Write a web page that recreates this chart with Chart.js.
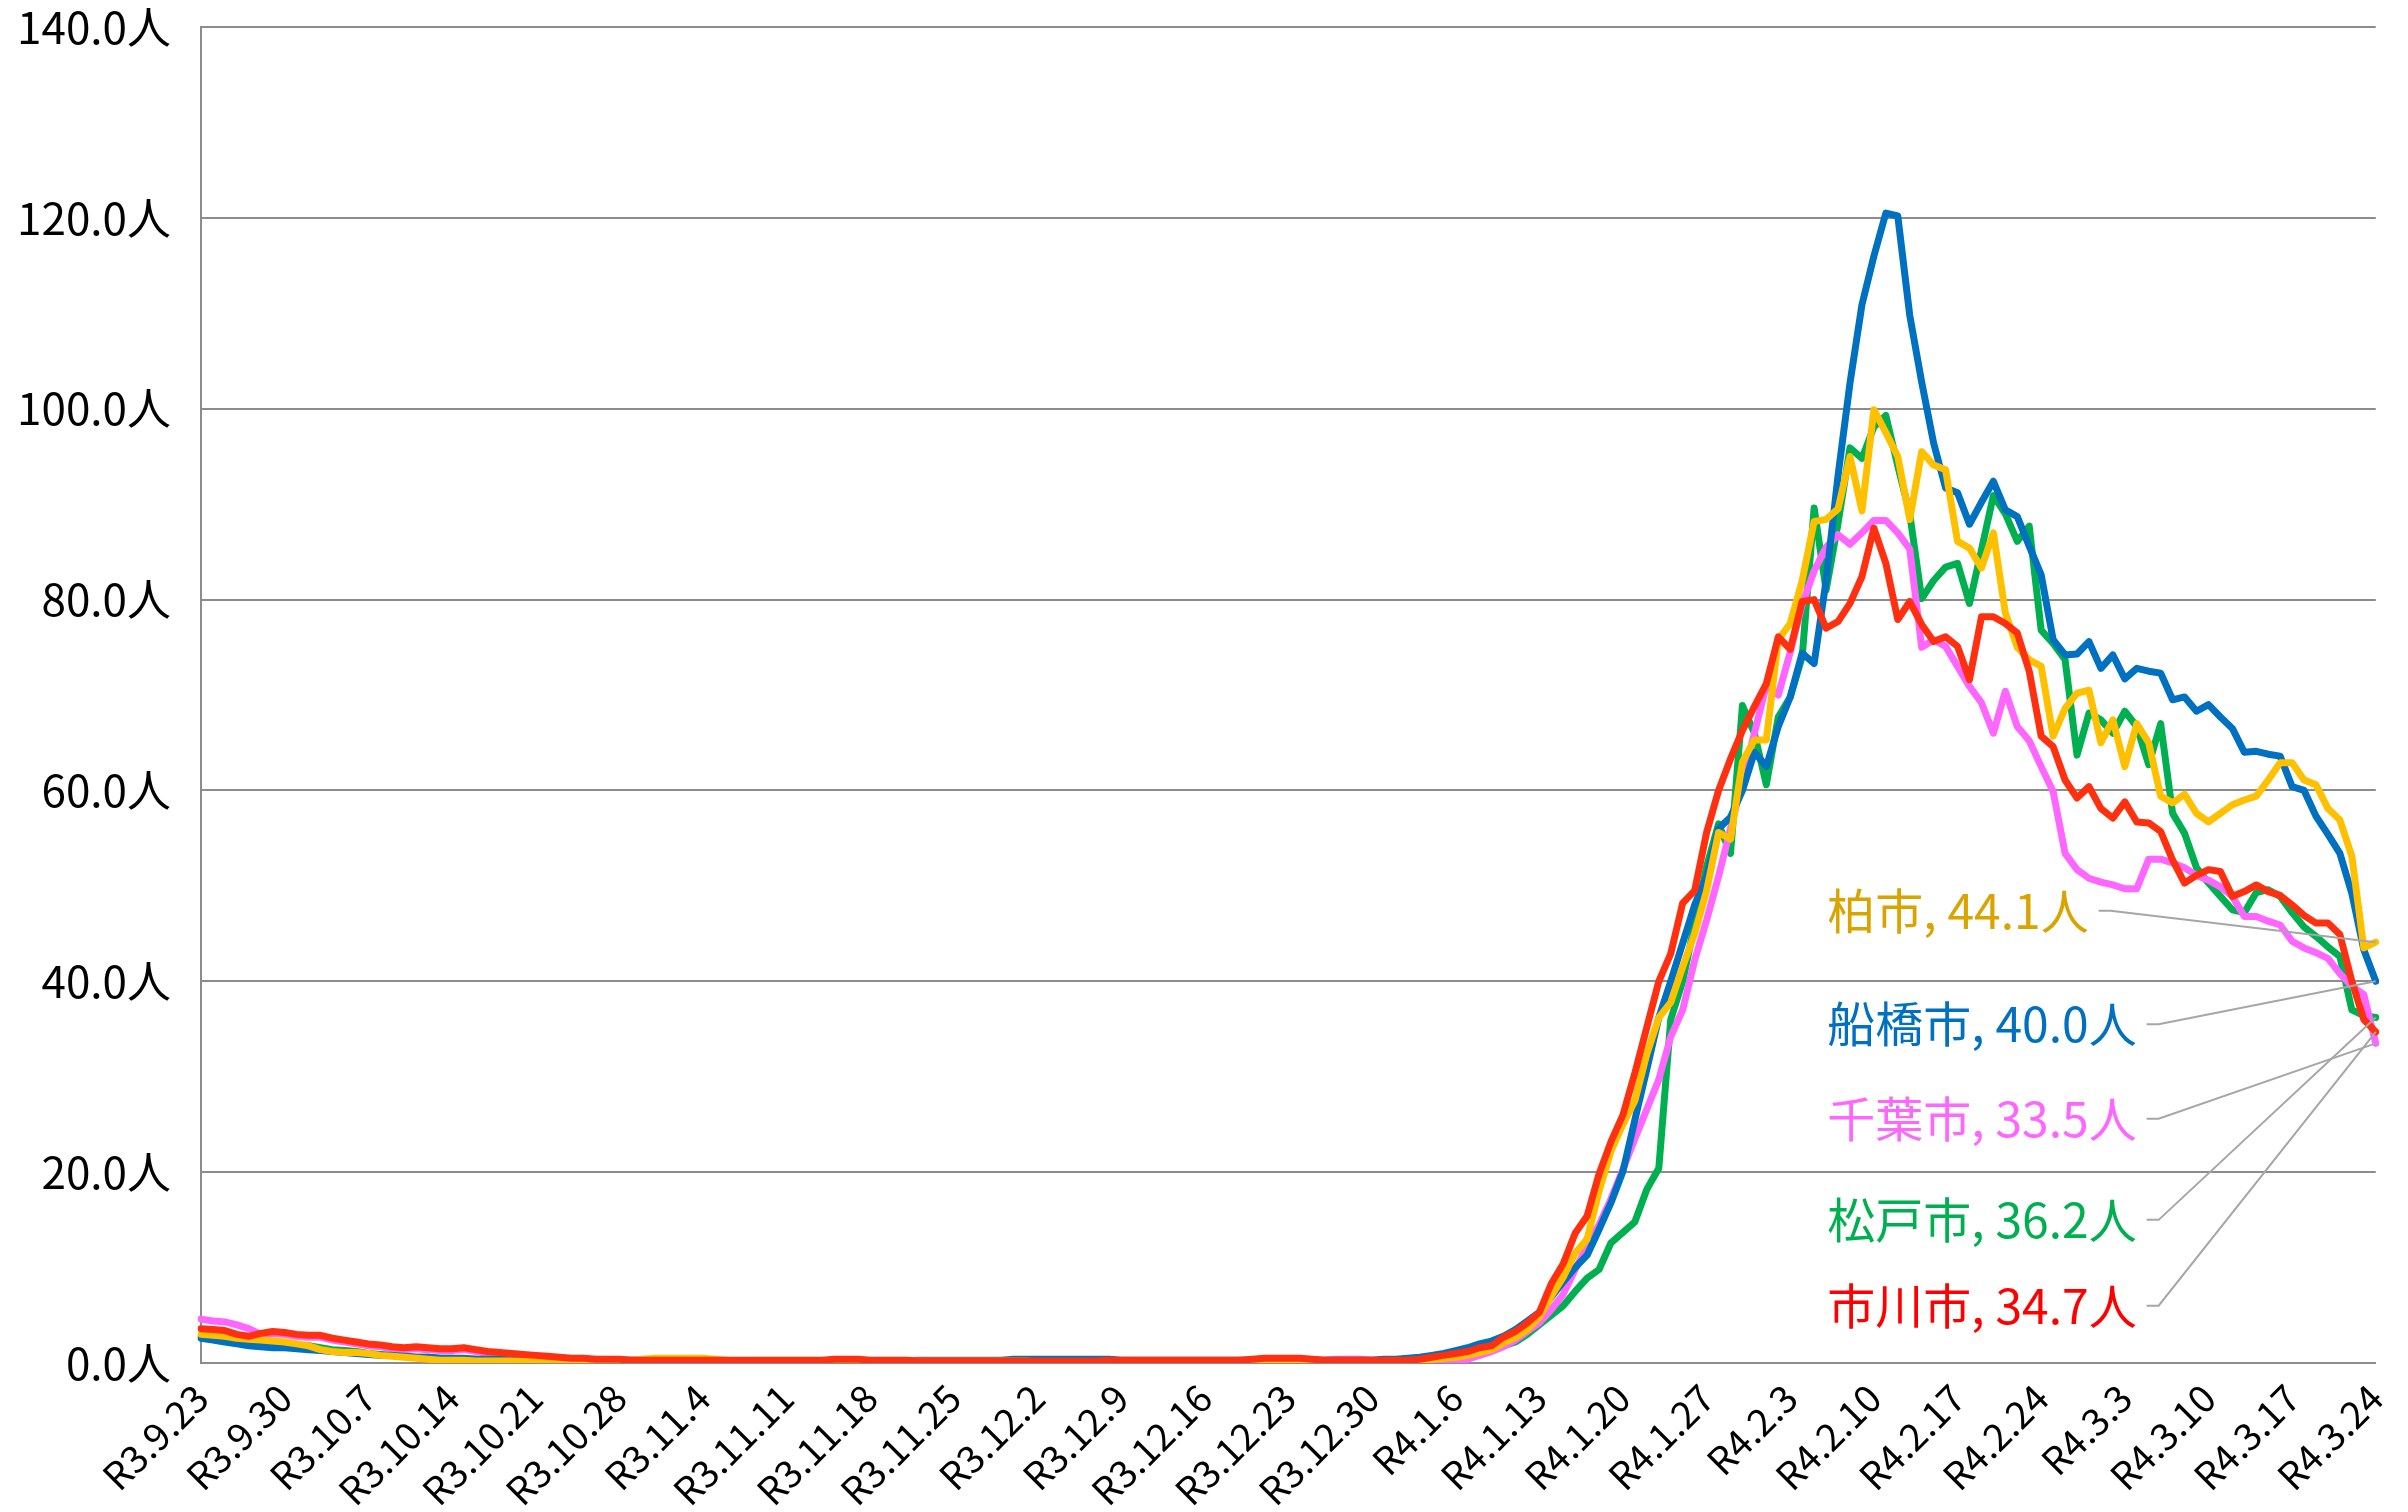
<!DOCTYPE html>
<html>
<head>
<meta charset="utf-8">
<script src="https://cdn.jsdelivr.net/npm/chart.js@4.4.1/dist/chart.umd.min.js"></script>
<style>
  html, body { margin: 0; padding: 0; background: #ffffff; }
  #wrap { width: 2408px; height: 1512px; }
</style>
</head>
<body>
<div id="wrap"><canvas id="c" width="2408" height="1512"></canvas></div>
<script>
// ---------- DATA ----------
const startDate = { y: 2021, m: 9, d: 23 };   // R3.9.23
const dayCount = 183;                           // R3.9.23 .. R4.3.24

const tickLabels = ['R3.9.23','R3.9.30','R3.10.7','R3.10.14','R3.10.21','R3.10.28','R3.11.4',
  'R3.11.11','R3.11.18','R3.11.25','R3.12.2','R3.12.9','R3.12.16','R3.12.23','R3.12.30',
  'R4.1.6','R4.1.13','R4.1.20','R4.1.27','R4.2.3','R4.2.10','R4.2.17','R4.2.24',
  'R4.3.3','R4.3.10','R4.3.17','R4.3.24'];

const seriesNames = ['市川市', '柏市', '船橋市', '千葉市', '松戸市'];

const ichikawa = [
  3.6,3.5,3.4,3.0,2.8,3.1,3.3,3.2,3.0,2.9,
  2.9,2.6,2.4,2.2,2.0,1.9,1.7,1.6,1.7,1.6,
  1.5,1.5,1.6,1.4,1.2,1.1,1.0,0.9,0.8,0.7,
  0.6,0.5,0.5,0.4,0.4,0.4,0.3,0.3,0.3,0.3,
  0.3,0.3,0.3,0.3,0.3,0.3,0.3,0.3,0.3,0.3,
  0.3,0.3,0.3,0.4,0.4,0.4,0.3,0.3,0.3,0.3,
  0.2,0.2,0.2,0.2,0.2,0.2,0.2,0.2,0.2,0.2,
  0.2,0.2,0.2,0.2,0.2,0.2,0.3,0.3,0.3,0.3,
  0.3,0.3,0.3,0.3,0.3,0.3,0.3,0.3,0.4,0.5,
  0.5,0.5,0.5,0.4,0.3,0.3,0.3,0.3,0.3,0.3,
  0.3,0.3,0.4,0.6,0.8,1.0,1.2,1.6,1.8,2.7,
  3.3,4.2,5.3,8.3,10.4,13.6,15.4,19.8,23.2,26.0,
  30.4,35.2,40.0,42.9,48.2,49.5,55.6,60.0,63.3,66.3,
  68.8,71.2,76.1,74.8,79.8,80.0,77.0,77.7,79.6,82.4,
  87.5,83.8,77.9,79.8,77.4,75.6,76.1,75.1,71.6,78.2,
  78.2,77.5,76.5,72.5,65.7,64.6,61.1,59.2,60.4,58.1,
  57.1,58.8,56.7,56.6,55.7,52.7,50.3,51.1,51.7,51.5,
  48.9,49.4,50.1,49.4,49.0,48.0,46.9,46.1,46.1,44.9,
  40.0,36.0,34.7
];

const kashiwa = [
  3.0,2.9,2.8,2.6,2.5,2.4,2.3,2.2,2.0,1.8,
  1.4,1.2,1.1,1.1,1.0,0.8,0.7,0.6,0.5,0.4,
  0.3,0.3,0.3,0.2,0.2,0.2,0.2,0.2,0.2,0.2,
  0.2,0.2,0.2,0.2,0.2,0.2,0.3,0.4,0.5,0.5,
  0.5,0.5,0.5,0.4,0.3,0.2,0.2,0.2,0.2,0.2,
  0.2,0.2,0.2,0.2,0.2,0.2,0.2,0.2,0.2,0.2,
  0.2,0.2,0.2,0.2,0.2,0.2,0.2,0.2,0.2,0.2,
  0.1,0.1,0.1,0.1,0.1,0.1,0.1,0.1,0.1,0.1,
  0.1,0.1,0.1,0.1,0.1,0.1,0.1,0.2,0.2,0.2,
  0.2,0.2,0.2,0.2,0.2,0.2,0.2,0.2,0.2,0.2,
  0.2,0.2,0.3,0.4,0.5,0.6,0.8,1.1,1.4,2.1,
  2.7,3.5,4.8,7.0,9.0,11.5,13.0,18.0,22.2,25.0,
  27.5,32.4,36.2,37.8,41.5,45.0,49.5,55.6,54.9,63.0,
  65.3,65.3,75.8,77.5,82.0,88.2,88.4,89.5,95.0,89.3,
  99.9,97.5,95.0,88.4,95.5,94.1,93.6,86.1,85.4,83.3,
  87.0,78.6,75.0,73.7,73.0,65.7,68.6,70.2,70.5,65.0,
  67.4,62.5,67.0,65.0,59.4,58.7,59.6,57.6,56.7,57.6,
  58.5,59.0,59.4,61.1,62.9,62.9,61.1,60.6,58.1,56.9,
  53.1,43.5,44.1
];

const funabashi = [
  2.6,2.4,2.2,2.0,1.8,1.7,1.6,1.6,1.5,1.4,
  1.3,1.2,1.1,1.0,0.9,0.8,0.8,0.7,0.6,0.6,
  0.5,0.5,0.5,0.4,0.4,0.4,0.3,0.3,0.3,0.3,
  0.3,0.3,0.3,0.3,0.3,0.3,0.3,0.3,0.3,0.3,
  0.3,0.2,0.2,0.2,0.2,0.2,0.2,0.2,0.2,0.2,
  0.2,0.2,0.2,0.2,0.2,0.2,0.2,0.2,0.2,0.2,
  0.3,0.3,0.3,0.3,0.3,0.3,0.3,0.3,0.4,0.4,
  0.4,0.4,0.4,0.4,0.4,0.4,0.4,0.3,0.3,0.3,
  0.3,0.3,0.3,0.3,0.3,0.3,0.3,0.3,0.3,0.3,
  0.3,0.3,0.3,0.3,0.3,0.3,0.3,0.3,0.3,0.4,
  0.4,0.5,0.6,0.8,1.0,1.3,1.6,2.0,2.3,2.8,
  3.5,4.4,5.3,6.9,8.5,10.0,11.3,14.0,16.8,20.1,
  25.5,30.8,36.2,40.0,44.0,48.0,51.0,56.0,57.2,60.0,
  64.0,62.5,66.7,69.8,74.4,73.3,82.0,93.0,102.7,110.9,
  116.0,120.5,120.2,109.8,102.8,96.4,91.7,91.2,87.9,90.2,
  92.4,89.4,88.7,85.6,82.6,75.8,74.2,74.3,75.6,72.8,
  74.2,71.7,72.8,72.5,72.3,69.5,69.8,68.3,69.0,67.7,
  66.5,64.0,64.1,63.8,63.6,60.4,60.0,57.3,55.4,53.4,
  49.2,43.3,40.0
];

const chiba = [
  4.6,4.4,4.3,4.0,3.6,3.0,3.1,3.0,2.8,2.7,
  2.7,2.4,2.2,2.0,1.8,1.7,1.5,1.4,1.5,1.4,
  1.3,1.3,1.4,1.2,1.0,0.9,0.8,0.7,0.6,0.5,
  0.5,0.4,0.4,0.4,0.3,0.3,0.3,0.3,0.3,0.3,
  0.3,0.3,0.2,0.2,0.2,0.2,0.2,0.2,0.2,0.2,
  0.2,0.2,0.2,0.2,0.2,0.2,0.2,0.2,0.2,0.2,
  0.2,0.2,0.2,0.2,0.2,0.2,0.2,0.2,0.2,0.2,
  0.2,0.2,0.2,0.2,0.2,0.2,0.2,0.2,0.2,0.2,
  0.2,0.2,0.2,0.2,0.2,0.2,0.2,0.3,0.3,0.3,
  0.3,0.3,0.3,0.3,0.3,0.4,0.4,0.4,0.3,0.3,
  0.2,0.1,0.1,0.1,0.1,0.2,0.4,0.8,1.2,1.7,
  2.4,3.3,4.2,5.6,7.2,9.8,12.2,14.5,17.2,20.3,
  23.5,26.6,29.7,34.2,37.0,42.2,46.4,51.0,56.0,61.0,
  66.0,71.0,70.0,74.5,79.5,83.0,85.5,86.8,85.8,87.0,
  88.3,88.3,87.0,85.3,75.0,75.8,75.1,73.0,70.9,69.2,
  66.0,70.4,66.7,65.2,62.5,59.9,53.4,51.7,50.8,50.4,
  50.1,49.7,49.7,52.8,52.8,52.4,51.9,51.1,50.6,49.9,
  48.9,46.8,46.8,46.3,45.9,44.2,43.5,43.0,42.4,40.8,
  39.5,38.6,33.5
];

const matsudo = [
  2.8,2.6,2.5,2.4,2.2,2.2,2.1,2.0,1.9,1.8,
  1.6,1.4,1.3,1.2,1.0,0.9,0.8,0.7,0.6,0.6,
  0.5,0.5,0.4,0.4,0.3,0.3,0.3,0.3,0.3,0.2,
  0.2,0.2,0.2,0.2,0.2,0.2,0.2,0.2,0.2,0.2,
  0.2,0.2,0.2,0.2,0.2,0.2,0.2,0.2,0.2,0.2,
  0.2,0.2,0.2,0.2,0.2,0.2,0.2,0.2,0.2,0.2,
  0.2,0.2,0.2,0.2,0.2,0.2,0.2,0.2,0.2,0.2,
  0.2,0.2,0.2,0.2,0.2,0.2,0.2,0.2,0.2,0.2,
  0.2,0.2,0.2,0.2,0.2,0.2,0.2,0.2,0.2,0.2,
  0.2,0.2,0.2,0.2,0.2,0.2,0.2,0.2,0.2,0.2,
  0.2,0.2,0.2,0.2,0.3,0.3,0.6,1.0,1.4,1.8,
  2.2,3.0,4.0,5.0,6.0,7.5,8.9,9.8,12.6,13.7,
  14.8,18.2,20.4,36.0,40.0,46.0,52.0,56.5,53.4,68.9,
  66.0,60.6,67.7,69.8,74.0,89.6,81.0,88.0,95.9,94.8,
  98.1,99.3,94.0,89.0,80.1,82.0,83.4,83.8,79.6,85.2,
  90.9,89.0,86.1,87.7,76.8,75.4,73.7,63.7,68.1,67.4,
  66.0,68.3,66.7,62.7,67.0,57.6,55.5,51.9,50.3,48.9,
  47.5,47.2,49.3,49.6,48.9,47.2,45.7,44.7,43.6,42.6,
  37.0,36.4,36.2
];

// ---------- STYLE ----------
const FONT = "'Noto Sans CJK JP', 'Noto Sans', sans-serif";
const lineColors  = ['#FF3010', '#FFC000', '#0070C0', '#FF66FF', '#00B050'];
const labelColors = ['#FF0000', '#D9A300', '#0070C0', '#FF66FF', '#00B050'];
const drawOrder   = [1, 2, 3, 4, 5];
// label anchor positions in data units (category index, value)
const labelAnchors = [
  { index: 136.1, value: 6.0 },
  { index: 136.1, value: 47.4 },
  { index: 136.1, value: 35.5 },
  { index: 136.1, value: 25.6 },
  { index: 136.1, value: 15.0 }
];

// categories: consecutive days, written in 和暦 R-notation
const categories = [];
for (let k = 0; k < dayCount; k++) {
  const dt = new Date(Date.UTC(startDate.y, startDate.m - 1, startDate.d + k));
  const era = dt.getUTCFullYear() - 2018;
  categories.push('R' + era + '.' + (dt.getUTCMonth() + 1) + '.' + dt.getUTCDate());
}

const seriesValues = [ichikawa, kashiwa, funabashi, chiba, matsudo];

const endLabels = {
  id: 'endLabels',
  afterDatasetsDraw(chart) {
    const { ctx, scales: { x, y } } = chart;
    ctx.save();
    ctx.font = '48px ' + FONT;
    ctx.textBaseline = 'middle';
    ctx.textAlign = 'left';
    chart.data.datasets.forEach((ds, di) => {
      const meta = chart.getDatasetMeta(di);
      const pt = meta.data[meta.data.length - 1];
      const a = labelAnchors[di];
      const lx = x.left + (x.right - x.left) * a.index / (dayCount - 1);
      const ly = y.getPixelForValue(a.value);
      const last = ds.data[ds.data.length - 1];
      const text = ds.label + ', ' + last.toFixed(1) + '人';
      ctx.fillStyle = labelColors[di];
      ctx.fillText(text, lx, ly);
      const w = ctx.measureText(text).width;
      ctx.beginPath();
      ctx.moveTo(lx + w + 10, ly);
      ctx.lineTo(lx + w + 22, ly);
      ctx.lineTo(pt.x, pt.y);
      ctx.strokeStyle = '#A6A6A6';
      ctx.lineWidth = 2;
      ctx.stroke();
    });
    ctx.restore();
  }
};

new Chart(document.getElementById('c'), {
  type: 'line',
  data: {
    labels: categories,
    datasets: seriesNames.map((name, i) => ({
      label: name,
      data: seriesValues[i],
      borderColor: lineColors[i],
      backgroundColor: lineColors[i],
      borderWidth: 7,
      pointRadius: 0,
      tension: 0,
      fill: false,
      borderJoinStyle: 'round',
      borderCapStyle: 'round',
      order: drawOrder[i]
    }))
  },
  options: {
    responsive: false,
    animation: false,
    events: [],
    layout: { padding: { left: 0, right: 0, top: 0, bottom: 0 } },
    plugins: { legend: { display: false }, tooltip: { enabled: false }, title: { display: false } },
    scales: {
      x: {
        offset: false,
        grid: { display: false, drawTicks: true, tickLength: 12, tickColor: 'rgba(0,0,0,0)' },
        border: { display: true, color: '#8C8C8C', width: 2 },
        ticks: {
          autoSkip: false,
          minRotation: 45,
          maxRotation: 45,
          padding: 0,
          color: '#000000',
          font: { family: FONT, size: 38 },
          callback: function (val, idx) {
            const lab = categories[idx];
            return tickLabels.includes(lab) ? lab : null;
          }
        },
        afterFit: s => { s.height = 149; }
      },
      y: {
        min: 0,
        max: 140,
        grid: { color: '#8C8C8C', lineWidth: 2, drawTicks: true, tickLength: 30, tickColor: 'rgba(0,0,0,0)' },
        border: { display: true, color: '#8C8C8C', width: 2 },
        ticks: {
          stepSize: 20,
          padding: 0,
          color: '#000000',
          font: { family: FONT, size: 44, lineHeight: 1.23 },
          callback: v => Number(v).toFixed(1) + '人'
        },
        afterFit: s => { s.width = 201; }
      }
    }
  },
  plugins: [endLabels]
});
</script>
</body>
</html>
